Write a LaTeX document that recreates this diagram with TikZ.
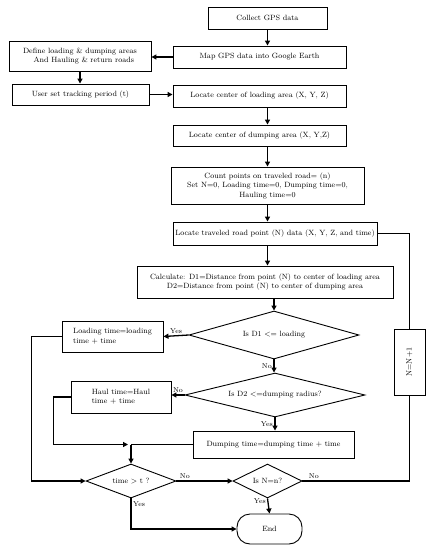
\documentclass[tikz,border=0pt]{standalone}
\usepackage{graphicx}
\usepackage{tikz}
\usetikzlibrary{arrows.meta,positioning,shapes.geometric,calc}

\begin{document}
\begin{tikzpicture}[x=1pt, y=-1pt,
    box/.style={rectangle, draw, line width=0.9pt, inner sep=1pt,
                font=\fontsize{7.6}{9.5}\selectfont, align=center},
    test/.style={diamond, draw, line width=0.9pt, inner sep=0pt,
                 font=\fontsize{7.6}{9.5}\selectfont, shape aspect=#1},
    term/.style={box, rounded corners=13pt},
    arr/.style={-{Triangle[length=5pt,width=5pt]}, line width=1.3pt},
    wire/.style={line width=1.3pt},
    lbl/.style={font=\fontsize{7}{8}\selectfont, inner sep=1.5pt}
]
\useasboundingbox (0,0) rectangle (435,550);

\node[box, minimum width=119pt, minimum height=22pt] (collect) at (267.5,18) {Collect GPS data};
\node[box, minimum width=173pt, minimum height=22pt] (map) at (259.5,57) {Map GPS data into Google Earth};
\node[box, minimum width=142pt, minimum height=30pt] (define) at (80,56) {Define loading \& dumping areas\\ \quad And Hauling \& return roads};
\node[box, minimum width=137pt, minimum height=21pt] (user) at (80.5,94.5) {User set tracking period (t)};
\node[box, minimum width=173pt, minimum height=22pt] (locload) at (259.5,96) {Locate center of loading area (X, Y, Z)};
\node[box, minimum width=173pt, minimum height=21pt] (locdump) at (259.5,135.5) {Locate center of dumping area (X, Y,Z)};
\node[box, minimum width=193pt, minimum height=37pt] (count) at (267.5,185.5) {Count points on traveled road= (n)\\ Set N=0, Loading time=0, Dumping time=0,\\ Hauling time=0};
\node[box, minimum width=204pt, minimum height=23pt] (travel) at (275,233.5) {Locate traveled road point (N) data (X, Y, Z, and time)};
\node[box, minimum width=256pt, minimum height=32pt] (calc) at (265,282) {Calculate: D1=Distance from point (N) to center of loading area\\ D2=Distance from point (N) to center of dumping area};
\node[test=3.5, minimum width=170pt, minimum height=48pt] (dia1) at (274,335) {Is D1 <= loading};
\node[box, align=left, minimum width=101pt, minimum height=31pt] (loadt) at (112.5,336.5) {Loading time=loading\\ time + time};
\node[box, minimum width=31pt, minimum height=66pt] (nn) at (409.5,362) {\rotatebox{90}{N=N+1}};
\node[test=4.1, minimum width=180pt, minimum height=44pt] (dia2) at (275,395) {Is D2 <=dumping radius?};
\node[box, align=left, minimum width=100pt, minimum height=32pt] (hault) at (121,397) {Haul time=Haul\\ time + time};
\node[box, minimum width=161pt, minimum height=27pt] (dumpt) at (273.5,444.5) {Dumping time=dumping time + time};
\node[test=2.6, minimum width=90pt, minimum height=34pt] (dia3) at (131,481) {time > t ?};
\node[test=2.0, minimum width=69pt, minimum height=34pt] (dia4) at (267.5,481) {Is N=n?};
\node[term, minimum width=65pt, minimum height=30pt] (end) at (269.5,529) {End};

\coordinate (junc) at (dia3.north |- dumpt.west);

\draw[arr] (collect.south) -- (collect.south |- map.north);
\draw[arr] (map.west) -- (map.west -| define.east);
\draw[arr] (define.south) -- (define.south |- user.north);
\draw[arr] (user.east) -- (user.east -| locload.west);
\draw[arr] (collect.south |- locload.south) -- (collect.south |- locdump.north);
\draw[arr] (count.north |- locdump.south) -- (count.north);
\draw[arr] (count.south) -- (count.south |- travel.north);
\draw[arr] (count.south |- travel.south) -- (count.south |- calc.north);
\draw[arr] (dia1.north |- calc.south) -- (dia1.north);
\draw[arr] (dia1.west) -- node[lbl, above] (yes1) {Yes} (loadt.east);
\draw[arr] (dia1.south) -- node[lbl, left] (no1) {No} (dia1.south |- dia2.north);
\draw[arr] (dia2.west) -- node[lbl, above] (no2) {No} (dia2.west -| hault.east);
\draw[arr] (dia2.south) -- node[lbl, left] (yes2) {Yes} (dia2.south |- dumpt.north);
\draw[arr] (loadt.west) -- ++(-30,0) |- (dia3.west);
\draw[arr] (hault.west) -- ++(-17,0) |- ($(junc)+(-3,0)$);
\draw[wire] (dumpt.west) -- (junc);
\draw[arr] (junc) -- (dia3.north);
\draw[arr] (dia3.east) -- node[lbl, above, pos=0.15] (no3) {No} (dia4.west);
\draw[arr] (dia3.south) |- node[lbl, right, pos=0.1] (yes3) {Yes} (end.west);
\draw[arr] (dia4.south) -- node[lbl, left, pos=0.2] (yes4) {Yes} (end.north);
\draw[wire] (dia4.east) -| node[lbl, above right, pos=0.02] (no4) {No} (nn.south);
\draw[wire] (nn.north) |- (travel.east);
\end{tikzpicture}
\end{document}
